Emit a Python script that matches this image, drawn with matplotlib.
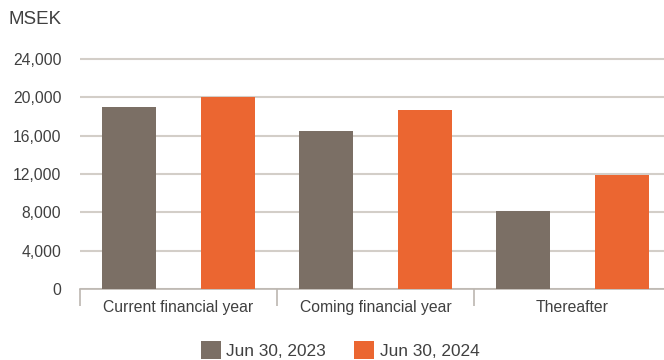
import matplotlib.pyplot as plt
import numpy as np

plt.rcParams['font.family'] = ['Liberation Sans', 'DejaVu Sans']

categories = ['Current financial year', 'Coming financial year', 'Thereafter']
jun_2023 = [19000, 16500, 8100]
jun_2024 = [20050, 18700, 11850]
series_labels = ['Jun 30, 2023', 'Jun 30, 2024']
yticks = [0, 4000, 8000, 12000, 16000, 20000, 24000]

gray = '#7b6f65'
orange = '#eb6631'
text_col = '#404040'
grid_col = '#d3cec8'

fig = plt.figure(figsize=(6.64, 3.6), dpi=100)
ax = fig.add_axes([80 / 664, 1 - 289 / 360, 591 / 664, 234.8 / 360])

x = np.arange(len(categories))
w = 0.275
b1 = ax.bar(x - 0.25, jun_2023, w, color=gray, zorder=3, label=series_labels[0])
b2 = ax.bar(x + 0.25, jun_2024, w, color=orange, zorder=3, label=series_labels[1])

ax.set_xlim(-0.5, 2.5)
ax.set_ylim(0, 24500)
ax.set_yticks(yticks)
ax.set_yticklabels([f'{v:,}' for v in yticks])
ax.yaxis.grid(True, color=grid_col, linewidth=1.5, zorder=0)
ax.set_axisbelow(True)

for s in ['top', 'right', 'left']:
    ax.spines[s].set_visible(False)
ax.spines['bottom'].set_color('#bcb6b0')
ax.spines['bottom'].set_linewidth(1.2)

ax.set_xticks(x)
ax.set_xticklabels(categories)
ax.set_xticks([-0.5, 0.5, 1.5], minor=True)
ax.tick_params(axis='x', which='major', length=0, pad=8, labelsize=11.3, labelcolor=text_col)
ax.tick_params(axis='x', which='minor', length=12, width=1.2, color='#bcb6b0')
ax.tick_params(axis='y', length=0, pad=13.5, labelsize=11.3, labelcolor=text_col)

fig.text(8 / 664, 1 - 20 / 360, 'MSEK', fontsize=13.5, color=text_col, va='center')

fig.legend(handles=[b1, b2], labels=series_labels, loc='center',
           bbox_to_anchor=(340 / 664, 1 - 350 / 360), ncol=2, frameon=False,
           fontsize=12.4, labelcolor=text_col, handlelength=1.2, handleheight=1.25,
           handletextpad=0.3, columnspacing=1.6, borderpad=0)

fig.savefig('out.png', dpi=100)
